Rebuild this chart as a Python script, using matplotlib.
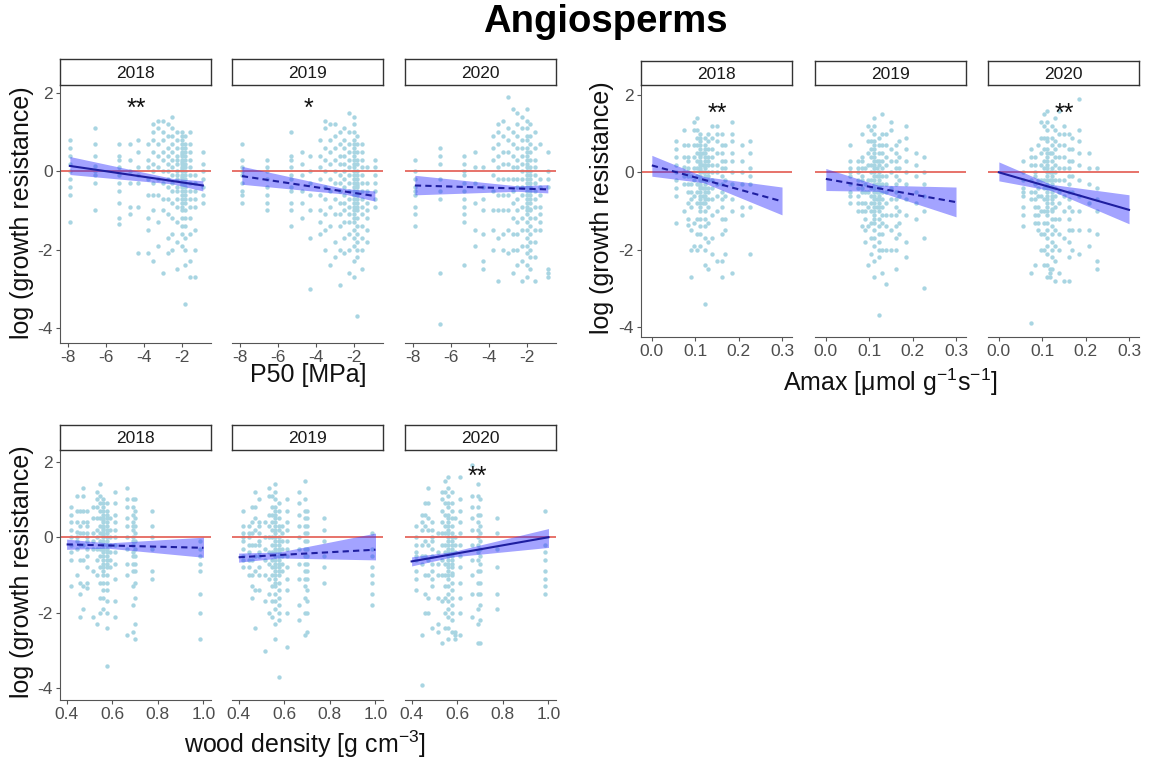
import numpy as np
import matplotlib
matplotlib.use('Agg')
import matplotlib.pyplot as plt

plt.rcParams['font.family'] = ['Liberation Sans', 'DejaVu Sans']
plt.rcParams['mathtext.fontset'] = 'custom'
plt.rcParams['mathtext.rm'] = 'Liberation Sans'
plt.rcParams['axes.unicode_minus'] = False

years = ['2018', '2019', '2020']

# species trait values (one column of points per species)
species_p50 = [-7.9, -6.6, -5.3, -4.74, -4.3, -3.77, -3.5, -3.25, -2.98, -2.72,
               -2.54, -2.28, -2.02, -1.84, -1.6, -1.32, -0.88]
species_amax = [0.056, 0.073, 0.084, 0.207, 0.226, 0.168, 0.149, 0.096, 0.185, 0.138,
                0.103, 0.13, 0.112, 0.122, 0.161, 0.09, 0.117]
species_wd = [0.42, 0.444, 0.49, 0.773, 0.517, 0.459, 0.532, 0.473, 0.664, 0.612,
              0.546, 0.69, 0.561, 0.576, 0.70, 0.986, 0.59]

# log growth resistance per tree, grouped by species
resist_2018 = [
    [0.8, 0.6, 0.4, 0.2, 0.0, -0.2, -0.4, -0.6, -1.3],
    [1.1, 0.7, 0.4, 0.15, 0.0, -0.1, -0.3, -1.0],
    [0.7, 0.4, 0.3, 0.1, 0.0, -0.1, -0.3, -0.5, -0.8, -1.2, -1.35],
    [0.7, 0.3, 0.0, -0.3, -0.9, -1.1],
    [0.8, 0.5, 0.1, -0.1, -0.3, -0.9, -2.1],
    [0.7, 0.3, 0.1, -0.2, -0.6, -1.2, -1.5, -2.1],
    [1.2, 1.0, 0.8, 0.5, 0.2, 0.0, -0.3, -0.6, -1.0, -2.3],
    [1.3, 1.1, 0.7, 0.4, 0.1, -0.2, -0.6, -1.3, -1.9],
    [1.3, 1.0, 0.8, 0.5, 0.3, 0.0, -0.3, -0.7, -1.0, -2.6],
    [1.2, 0.9, 0.6, 0.4, 0.2, 0.0, -0.2, -0.4, -0.7, -1.1, -1.7, -2.1],
    [1.4, 1.1, 0.9, 0.7, 0.5, 0.3, 0.1, -0.1, -0.3, -0.5, -0.8, -1.2, -1.6, -2.0],
    [1.0, 0.8, 0.6, 0.4, 0.3, 0.2, 0.0, -0.2, -0.4, -0.5, -0.7, -0.9, -1.3, -1.8, -2.5, -0.1],
    [1.0, 0.9, 0.8, 0.7, 0.6, 0.5, 0.45, 0.4, 0.3, 0.25, 0.2, 0.1, 0.05, 0.0, -0.1,
     -0.15, -0.2, -0.3, -0.35, -0.4, -0.5, -0.6, -0.7, -0.8, -0.9, -1.0, -1.2, -1.4, -1.6, -1.9],
    [0.9, 0.7, 0.6, 0.5, 0.4, 0.3, 0.2, 0.1, 0.0, -0.1, -0.2, -0.3, -0.4, -0.5, -0.6,
     -0.7, -0.8, -1.0, -1.2, -1.4, -1.7, -2.0, -2.4, -3.4],
    [1.0, 0.7, 0.5, 0.3, 0.1, -0.1, -0.3, -0.5, -0.7, -0.9, -1.2, -1.6, -2.3, -2.7],
    [-0.1, -0.3, -0.5, -0.7, -0.9, -1.5, -2.0, -2.7],
    [0.5, 0.2, 0.0, -0.2, -0.4, -0.6, -0.8],
]
resist_2019 = [
    [0.7, 0.3, 0.1, 0.0, -0.1, -0.3, -0.5, -0.6, -0.8],
    [0.3, 0.1, 0.0, -0.2, -0.4, -0.6, -0.8, -1.0],
    [1.0, 0.4, 0.3, 0.1, -0.1, -0.2, -0.4, -0.5, -0.8, -1.0, -1.4],
    [0.5, 0.2, -0.1, -0.5, -0.8, -1.2],
    [0.4, 0.0, -0.3, -0.6, -1.0, -1.7, -3.0],
    [0.8, 0.4, 0.1, -0.2, -0.6, -1.0, -1.3, -1.6],
    [1.3, 1.1, 0.6, 0.3, 0.0, -0.4, -0.7, -1.1, -1.5, -2.0],
    [1.2, 0.8, 0.5, 0.2, -0.2, -0.5, -0.9, -1.4, -2.4],
    [1.2, 0.9, 0.6, 0.3, 0.0, -0.3, -0.7, -1.1, -1.8, -2.2],
    [1.0, 0.7, 0.4, 0.2, -0.1, -0.3, -0.5, -0.8, -1.1, -1.4, -2.0, -2.9],
    [1.1, 0.8, 0.6, 0.4, 0.2, 0.0, -0.2, -0.4, -0.6, -0.8, -1.0, -1.3, -1.7, -2.1],
    [1.5, 1.0, 0.7, 0.5, 0.3, 0.1, -0.1, -0.3, -0.5, -0.7, -0.9, -1.1, -1.3, -1.6, -2.0, -2.6],
    [1.4, 1.2, 1.0, 0.8, 0.7, 0.6, 0.5, 0.4, 0.3, 0.2, 0.1, 0.0, -0.1, -0.2, -0.3,
     -0.4, -0.5, -0.6, -0.7, -0.8, -0.9, -1.0, -1.1, -1.2, -1.3, -1.5, -1.7, -1.9, -2.3, -2.7],
    [0.9, 0.7, 0.5, 0.3, 0.2, 0.0, -0.1, -0.2, -0.3, -0.35, -0.4, -0.5, -0.6, -0.7, -0.8,
     -0.9, -1.0, -1.2, -1.4, -1.6, -1.8, -2.0, -2.2, -3.7],
    [0.7, 0.5, 0.3, 0.1, -0.1, -0.3, -0.5, -0.7, -0.9, -1.1, -1.4, -1.7, -2.0, -2.5],
    [0.1, -0.3, -0.5, -0.8, -1.0, -1.2, -1.5, -1.8],
    [0.3, 0.1, -0.1, -0.3, -0.5, -0.7, -0.9],
]
resist_2020 = [
    [0.3, 0.0, -0.2, -0.4, -0.5, -0.6, -0.9, -1.1, -1.4],
    [0.6, 0.4, 0.2, -0.2, -0.5, -0.7, -2.6, -3.9],
    [0.4, 0.2, 0.0, -0.1, -0.3, -0.5, -0.7, -0.9, -1.1, -1.3, -2.4],
    [0.5, 0.1, -0.3, -0.8, -1.5, -1.9],
    [0.1, -0.4, -0.7, -1.0, -1.6, -2.3, -2.5],
    [0.9, 0.6, 0.3, -0.1, -0.5, -1.0, -1.5, -2.0],
    [1.2, 1.0, 0.7, 0.4, 0.1, -0.2, -0.6, -1.0, -1.7, -2.8],
    [1.3, 0.9, 0.5, 0.2, -0.2, -0.6, -1.0, -1.6, -2.0],
    [1.9, 1.1, 0.8, 0.5, 0.2, -0.2, -0.6, -1.0, -1.5, -2.1],
    [1.6, 1.0, 0.7, 0.4, 0.1, -0.2, -0.5, -0.8, -1.2, -1.6, -2.0, -2.6],
    [1.5, 1.2, 0.9, 0.6, 0.3, 0.1, -0.2, -0.4, -0.7, -1.0, -1.3, -1.6, -2.0, -2.4],
    [1.4, 1.1, 0.8, 0.6, 0.4, 0.2, 0.0, -0.2, -0.4, -0.6, -0.9, -1.2, -1.5, -1.9, -2.3, -2.8],
    [1.6, 1.3, 1.1, 0.9, 0.8, 0.6, 0.5, 0.4, 0.3, 0.2, 0.1, 0.0, -0.1, -0.2, -0.3,
     -0.4, -0.5, -0.6, -0.7, -0.8, -0.9, -1.0, -1.1, -1.3, -1.5, -1.7, -1.9, -2.1, -2.4, -2.7],
    [1.2, 0.9, 0.7, 0.5, 0.3, 0.1, 0.0, -0.1, -0.2, -0.3, -0.4, -0.5, -0.6, -0.7, -0.8,
     -0.95, -1.0, -1.2, -1.4, -1.6, -1.8, -2.0, -2.2, -2.5],
    [1.0, 0.6, 0.3, 0.1, -0.1, -0.3, -0.5, -0.7, -0.9, -1.2, -1.5, -1.8, -2.2, -2.8],
    [0.7, -0.2, -0.4, -0.6, -0.9, -1.1, -1.3, -1.5],
    [0.5, 0.0, -0.2, -0.4, -2.5, -2.6, -2.7],
]

# fitted lm lines: x range, line ends, band at [start, centre, end]
fit_x = {'p50': [-7.9, -2.5, -0.9], 'amax': [0.0, 0.12, 0.3], 'wd': [0.4, 0.58, 1.0]}
fit_line = {
    'p50': [[0.14, -0.36], [-0.12, -0.63], [-0.36, -0.46]],
    'amax': [[0.18, -0.75], [-0.17, -0.77], [0.0, -0.97]],
    'wd': [[-0.19, -0.28], [-0.53, -0.33], [-0.64, 0.0]],
}
fit_lo = {
    'p50': [[-0.08, -0.32, -0.5], [-0.33, -0.58, -0.76], [-0.6, -0.51, -0.55]],
    'amax': [[-0.1, -0.27, -1.1], [-0.47, -0.49, -1.15], [-0.22, -0.47, -1.33]],
    'wd': [[-0.32, -0.29, -0.53], [-0.66, -0.55, -0.6], [-0.76, -0.52, -0.27]],
}
fit_hi = {
    'p50': [[0.38, -0.18, -0.24], [0.13, -0.44, -0.5], [-0.1, -0.37, -0.34]],
    'amax': [[0.44, -0.11, -0.38], [0.1, -0.33, -0.38], [0.27, -0.31, -0.58]],
    'wd': [[-0.05, -0.15, 0.0], [-0.42, -0.39, 0.11], [-0.52, -0.38, 0.23]],
}
signif = {'p50': ['**', '*', ''], 'amax': ['**', '', '**'], 'wd': ['', '', '**']}
solid = {'p50': [True, False, False], 'amax': [False, False, True], 'wd': [False, False, True]}
star_pos = {'p50': (-4.4, 1.6), 'amax': (0.15, 1.52), 'wd': (0.69, 1.6)}

counts = [len(s) for s in resist_2018]
trait_x = {
    'p50': np.repeat(species_p50, counts),
    'amax': np.repeat(species_amax, counts),
    'wd': np.repeat(species_wd, counts),
}
resist = [np.concatenate(resist_2018), np.concatenate(resist_2019), np.concatenate(resist_2020)]

W, H = 1151, 769
fig = plt.figure(figsize=(W / 100, H / 100), dpi=100)


def rect(l, r, t, b):
    return [l / W, 1 - b / H, (r - l) / W, (b - t) / H]


groups = [
    dict(key='p50', lefts=[60, 232, 405], width=151, strip_top=59, top=85, bottom=343,
         xlim=(-8.42, -0.47), ylim=(-4.39, 2.21), xticks=[-8, -6, -4, -2], fmt='{:g}',
         xlabel='P50 [MPa]', xlab_pos=(308, 375), ylab_pos=(22, 213)),
    dict(key='amax', lefts=[641, 815, 988], width=151, strip_top=61, top=85, bottom=337,
         xlim=(-0.025, 0.323), ylim=(-4.26, 2.26), xticks=[0.0, 0.1, 0.2, 0.3], fmt='{:.1f}',
         xlabel='Amax [μmol g$^{-1}$s$^{-1}$]', xlab_pos=(890, 382), ylab_pos=(602, 208)),
    dict(key='wd', lefts=[60, 232, 405], width=151, strip_top=425, top=450, bottom=700,
         xlim=(0.371, 1.033), ylim=(-4.31, 2.31), xticks=[0.4, 0.6, 0.8, 1.0], fmt='{:.1f}',
         xlabel='wood density [g cm$^{-3}$]', xlab_pos=(305, 744), ylab_pos=(22, 572)),
]

for g in groups:
    key = g['key']
    for i, year in enumerate(years):
        l = g['lefts'][i]
        r = l + g['width']
        ax = fig.add_axes(rect(l, r, g['top'], g['bottom']))
        ax.scatter(trait_x[key], resist[i], s=10, color='#A8D5E2', linewidths=0, zorder=1)
        ax.axhline(0, color='#E5675E', lw=1.3, zorder=2)
        xs = fit_x[key]
        y0, y1 = fit_line[key][i]
        ax.fill_between(xs, fit_lo[key][i], fit_hi[key][i], color='#3333FF', alpha=0.45,
                        linewidth=0, zorder=3)
        ls = '-' if solid[key][i] else (0, (3, 2))
        ax.plot([xs[0], xs[-1]], [y0, y1], color='#1E1EA0', lw=1.5, linestyle=ls, zorder=4)
        if signif[key][i]:
            ax.text(star_pos[key][0], star_pos[key][1], signif[key][i], ha='center', va='center',
                    fontsize=18, color='#111111', zorder=5)
        ax.set_xlim(*g['xlim'])
        ax.set_ylim(*g['ylim'])
        ax.set_xticks(g['xticks'])
        ax.set_xticklabels([g['fmt'].format(v) for v in g['xticks']])
        for side in ['top', 'right']:
            ax.spines[side].set_visible(False)
        ax.spines['bottom'].set_color('#555555')
        ax.spines['left'].set_color('#555555')
        ax.tick_params(length=3, color='#555555', labelcolor='#4D4D4D', labelsize=12.5, pad=2)
        if i == 0:
            ax.set_yticks([2, 0, -2, -4])
            ax.set_yticklabels(['2', '0', '-2', '-4'])
        else:
            ax.spines['left'].set_visible(False)
            ax.set_yticks([])
        ax.patch.set_alpha(0)

        # facet strip
        sax = fig.add_axes(rect(l, r, g['strip_top'], g['top']))
        sax.set_xticks([])
        sax.set_yticks([])
        sax.set_facecolor('white')
        for sp in sax.spines.values():
            sp.set_color('#333333')
            sp.set_linewidth(1.0)
        sax.text(0.5, 0.45, year, ha='center', va='center', fontsize=12.5, color='#1A1A1A',
                 transform=sax.transAxes)

    fig.text(g['xlab_pos'][0] / W, 1 - g['xlab_pos'][1] / H, g['xlabel'], ha='center',
             va='center', fontsize=18, color='#111111')
    fig.text(g['ylab_pos'][0] / W, 1 - g['ylab_pos'][1] / H, 'log (growth resistance)',
             ha='center', va='center', rotation=90, fontsize=18, color='#111111')

fig.text(605 / W, 1 - 22 / H, 'Angiosperms', ha='center', va='center', fontsize=27.5,
         fontweight='bold', color='black')

fig.savefig('out.png', dpi=100)
